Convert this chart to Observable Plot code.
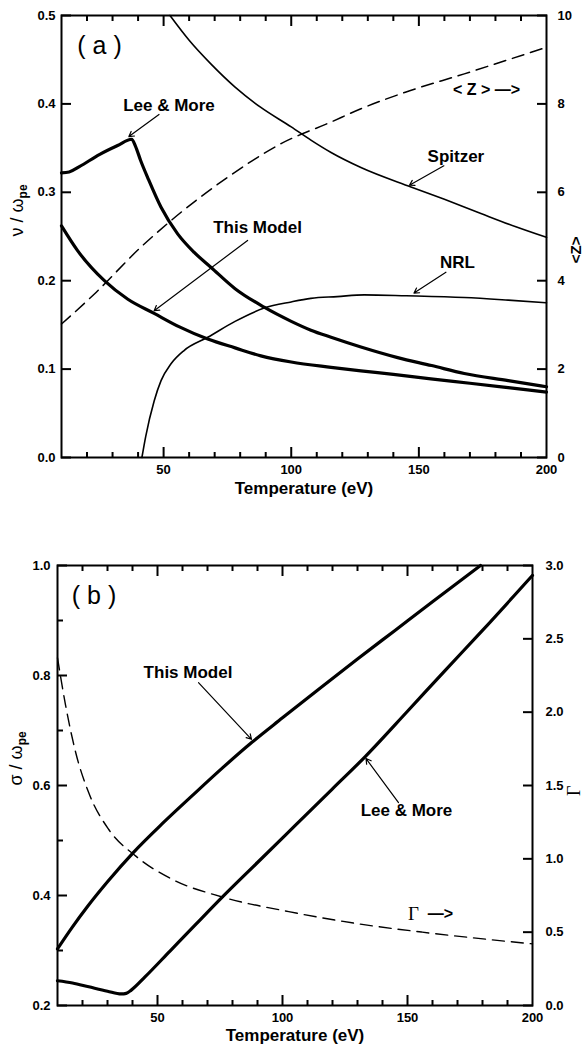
<!DOCTYPE html>
<html><head><meta charset="utf-8">
<script src="https://cdn.jsdelivr.net/npm/d3@7"></script>
<script src="https://cdn.jsdelivr.net/npm/@observablehq/plot@0.6"></script>
<style>
body{margin:0;background:#fff}
#chart svg{display:block}
</style>
</head><body><div id="chart"></div>
<script>
// ---------- Panel (a) data: collision frequency nu/omega_pe vs temperature ----------
const tempLeeA = [10, 13, 17, 25, 32, 37.5, 39, 41, 44, 49, 55.5, 62, 68.6, 78, 89.4, 100, 107.7, 115.6, 127.3, 141.7, 155, 167.8, 185, 200];
const nuLeeA   = [0.322, 0.323, 0.329, 0.343, 0.353, 0.360, 0.352, 0.336, 0.315, 0.283, 0.253, 0.232, 0.215, 0.191, 0.170, 0.154, 0.144, 0.136, 0.125, 0.113, 0.104, 0.095, 0.087, 0.080];
const tempThisA = [10, 16.3, 26.8, 36, 46.3, 56, 67.3, 78, 88.1, 100, 115.6, 127.3, 140, 154.7, 170, 185, 200];
const nuThisA   = [0.262, 0.234, 0.200, 0.179, 0.163, 0.148, 0.134, 0.124, 0.115, 0.108, 0.102, 0.098, 0.094, 0.089, 0.084, 0.079, 0.074];
const tempSpitzerA = [52.5, 60, 68.6, 78, 88.1, 100, 107.7, 115.6, 127.3, 146.9, 160, 174.3, 188, 200];
const nuSpitzerA   = [0.5, 0.472, 0.445, 0.419, 0.396, 0.374, 0.359, 0.345, 0.328, 0.306, 0.292, 0.276, 0.261, 0.249];
const tempNrlA = [41.5, 43, 46.3, 49, 52.9, 58, 67.3, 78, 89.4, 100, 107.7, 118, 128.6, 145, 167.8, 185, 200];
const nuNrlA   = [0, 0.024, 0.064, 0.087, 0.106, 0.121, 0.136, 0.154, 0.169, 0.176, 0.180, 0.182, 0.184, 0.183, 0.181, 0.178, 0.175];
const tempZA = [10, 22.9, 41.1, 52.9, 75.1, 96, 115.6, 127.3, 145, 167.8, 185, 200];
const zA     = [3.02, 3.70, 4.76, 5.36, 6.34, 7.10, 7.59, 7.89, 8.27, 8.68, 9.0, 9.28];

// ---------- Panel (b) data: sigma/omega_pe and Gamma vs temperature ----------
const tempThisB = [10, 16, 22, 30, 40.5, 52, 64, 76, 87.9, 100, 115, 130, 145, 160, 179.2];
const sigThisB  = [0.303, 0.343, 0.380, 0.425, 0.479, 0.531, 0.582, 0.632, 0.679, 0.723, 0.777, 0.830, 0.882, 0.934, 1.0];
const tempLeeB = [10, 16, 22.5, 30, 35.5, 37.5, 39.5, 45, 55, 65, 75.9, 90, 105, 120, 133.2, 150, 165, 180, 200];
const sigLeeB  = [0.245, 0.241, 0.234, 0.226, 0.221, 0.222, 0.228, 0.252, 0.299, 0.346, 0.397, 0.460, 0.527, 0.594, 0.653, 0.735, 0.809, 0.882, 0.982];
const tempGammaB = [10, 13.2, 17.2, 22.5, 30.5, 41.2, 55.9, 75.9, 102.5, 129.2, 155.9, 182.5, 200];
const gammaB     = [2.37, 2.05, 1.73, 1.45, 1.20, 1.02, 0.86, 0.74, 0.64, 0.56, 0.50, 0.45, 0.42];

// ---------- Tick values ----------
const tempLabelTicks = [50, 100, 150, 200];
const tempMajorTicks = [50, 100, 150];
const tempMinorTicks = [20, 30, 40, 60, 70, 80, 90, 110, 120, 130, 140, 160, 170, 180, 190];
const nuTicksA = [0, 0.1, 0.2, 0.3, 0.4, 0.5];
const zTicksA = [0, 2, 4, 6, 8, 10];
const sigmaTicksB = [0.2, 0.4, 0.6, 0.8, 1.0];
const sigmaMinorB = [0.3, 0.5, 0.7, 0.9];
const gammaTicksB = [0, 0.5, 1, 1.5, 2, 2.5, 3];

// ---------- Annotations ----------
const labelsA = [
  {text: "Lee & More", t: 52.1, v: 0.398},
  {text: "This Model", t: 86.8, v: 0.2596},
  {text: "Spitzer", t: 164.5, v: 0.341},
  {text: "NRL", t: 165.1, v: 0.221}
];
const arrowsA = [
  {t1: 48.2, v1: 0.388, t2: 36.4, v2: 0.363},
  {t1: 82.9, v1: 0.2455, t2: 46.3, v2: 0.166},
  {t1: 159.8, v1: 0.330, t2: 146.3, v2: 0.308},
  {t1: 160.6, v1: 0.2096, t2: 148.1, v2: 0.186}
];
const labelsB = [
  {text: "This Model", t: 62.2, v: 0.806},
  {text: "Lee & More", t: 149.6, v: 0.555}
];
const arrowsB = [
  {t1: 66.4, v1: 0.787, t2: 87.6, v2: 0.684},
  {t1: 146.4, v1: 0.569, t2: 133.4, v2: 0.649}
];

const FONT = "'Liberation Sans', Arial, Helvetica, sans-serif";
const SERIF = "'Liberation Serif', 'Times New Roman', serif";
const zToNu = 0.05;                          // <Z> axis 0..10 mapped onto 0..0.5
const gToSig = g => 0.2 + g * 0.8 / 3;       // Gamma axis 0..3 mapped onto 0.2..1.0
const sigToG = s => (s - 0.2) * 3 / 0.8;
const zip = (ts, vs) => ts.map((t, i) => ({t, v: vs[i]}));

// inward ticks: an outward axis tick shifted inward by its own length
function tick(f, anchor, vals, len) {
  const inset = {bottom: {insetBottom: len}, top: {insetTop: len}, left: {insetLeft: len}, right: {insetRight: len}}[anchor];
  return f(vals, {anchor, tickSize: len, ...inset, tickFormat: () => "", label: null, strokeWidth: 2, stroke: "black"});
}
function frameMarks(o) {
  const m = [
    Plot.frame({stroke: "black", strokeWidth: 2}),
    Plot.axisX(tempLabelTicks, {anchor: "bottom", tickSize: 0, tickPadding: 7, label: null, fontSize: 13, fontWeight: "bold"}),
    Plot.axisY(o.leftLabels, {anchor: "left", tickSize: 0, tickPadding: o.leftPad, tickFormat: o.leftFmt, label: null, fontSize: 13, fontWeight: "bold"}),
    Plot.axisY(o.rightLabels, {anchor: "right", tickSize: 0, tickPadding: o.rightPad, tickFormat: o.rightFmt, label: null, fontSize: 13, fontWeight: "bold"}),
    tick(Plot.axisX, "bottom", tempMajorTicks, 10),
    tick(Plot.axisX, "bottom", tempMinorTicks, 5),
    tick(Plot.axisX, "top", tempMajorTicks, 10),
    tick(Plot.axisX, "top", tempMinorTicks, 5),
    tick(Plot.axisY, "left", o.leftLabels, 10),
    tick(Plot.axisY, "right", o.rightLabels, 10)
  ];
  if (o.leftMinor) m.push(tick(Plot.axisY, "left", o.leftMinor, 6));
  return m;
}

// ---------- Panel (a) ----------
const plotA = Plot.plot({
  width: 584, height: 500, marginTop: 15, marginBottom: 43, marginLeft: 61, marginRight: 38,
  x: {domain: [10, 200]},
  y: {domain: [0, 0.5]},
  style: {fontFamily: FONT, fontWeight: "bold", color: "black", background: "white"},
  marks: [
    Plot.line(zip(tempZA, zA), {x: "t", y: d => d.v * zToNu, stroke: "black", strokeWidth: 1.5, strokeDasharray: "12,7", curve: "monotone-x"}),
    Plot.line(zip(tempSpitzerA, nuSpitzerA), {x: "t", y: "v", stroke: "black", strokeWidth: 1.6, curve: "monotone-x"}),
    Plot.line(zip(tempNrlA, nuNrlA), {x: "t", y: "v", stroke: "black", strokeWidth: 1.6, curve: "monotone-x"}),
    Plot.line(zip(tempLeeA, nuLeeA), {x: "t", y: "v", stroke: "black", strokeWidth: 3.2, curve: "monotone-x"}),
    Plot.line(zip(tempThisA, nuThisA), {x: "t", y: "v", stroke: "black", strokeWidth: 3.2, curve: "monotone-x"}),
    Plot.arrow(arrowsA, {x1: "t1", y1: "v1", x2: "t2", y2: "v2", stroke: "black", strokeWidth: 1.2, headLength: 7}),
    Plot.text(labelsA, {x: "t", y: "v", text: "text", fontSize: 17, fontWeight: "bold", fill: "black"}),
    Plot.text(["< Z > —>"], {x: 176.5, y: 0.416, text: d => d, fontSize: 16, fontWeight: "bold", fill: "black"}),
    Plot.text(["( a )"], {x: 24.9, y: 0.465, text: d => d, fontSize: 25, fontWeight: "normal", fill: "black"}),
    Plot.text(["Temperature (eV)"], {frameAnchor: "bottom", dy: 36, text: d => d, fontSize: 17, fontWeight: "bold", fill: "black"}),
    Plot.text(["ν / ωpe"], {frameAnchor: "left", dx: -44, rotate: -90, text: d => d, fontSize: 18, fontWeight: "normal", fill: "black"}),
    Plot.text(["<Z>"], {frameAnchor: "right", dx: 30, rotate: -90, text: d => d, fontSize: 15, fontWeight: "bold", fill: "black"}),
    ...frameMarks({
      leftLabels: nuTicksA, leftFmt: d => d.toFixed(1),
      rightLabels: zTicksA.map(z => z * zToNu), rightFmt: d => String(Math.round(d / zToNu)),
      leftPad: 6, rightPad: 11
    })
  ]
});

// ---------- Panel (b) ----------
const plotB = Plot.plot({
  width: 584, height: 545, marginTop: 65, marginBottom: 40, marginLeft: 57, marginRight: 52,
  x: {domain: [10, 200]},
  y: {domain: [0.2, 1.0]},
  style: {fontFamily: FONT, fontWeight: "bold", color: "black", background: "white"},
  marks: [
    Plot.line(zip(tempGammaB, gammaB), {x: "t", y: d => gToSig(d.v), stroke: "black", strokeWidth: 1.4, strokeDasharray: "12,7", curve: "monotone-x"}),
    Plot.line(zip(tempThisB, sigThisB), {x: "t", y: "v", stroke: "black", strokeWidth: 3.2, curve: "monotone-x"}),
    Plot.line(zip(tempLeeB, sigLeeB), {x: "t", y: "v", stroke: "black", strokeWidth: 3.2, curve: "monotone-x"}),
    Plot.arrow(arrowsB, {x1: "t1", y1: "v1", x2: "t2", y2: "v2", stroke: "black", strokeWidth: 1.2, headLength: 7}),
    Plot.text(labelsB, {x: "t", y: "v", text: "text", fontSize: 17, fontWeight: "bold", fill: "black"}),
    Plot.text(["Γ"], {x: 152.4, y: 0.367, text: d => d, fontSize: 19, fontWeight: "normal", fontFamily: SERIF, fill: "black"}),
    Plot.text(["—>"], {x: 163.2, y: 0.367, text: d => d, fontSize: 16, fontWeight: "bold", fill: "black"}),
    Plot.text(["( b )"], {x: 24.6, y: 0.944, text: d => d, fontSize: 25, fontWeight: "normal", fill: "black"}),
    Plot.text(["Temperature (eV)"], {frameAnchor: "bottom", dy: 35, text: d => d, fontSize: 17, fontWeight: "bold", fill: "black"}),
    Plot.text(["σ / ωpe"], {frameAnchor: "left", dx: -41, rotate: -90, text: d => d, fontSize: 18, fontWeight: "normal", fill: "black"}),
    Plot.text(["Γ"], {frameAnchor: "right", dx: 42, rotate: -90, text: d => d, fontSize: 18, fontWeight: "normal", fontFamily: SERIF, fill: "black"}),
    ...frameMarks({
      leftLabels: sigmaTicksB, leftFmt: d => d.toFixed(1), leftMinor: sigmaMinorB,
      rightLabels: gammaTicksB.map(gToSig), rightFmt: d => sigToG(d).toFixed(1),
      leftPad: 7, rightPad: 13
    })
  ]
});

// subscript "pe" on the omega in the left axis titles
for (const svg of [plotA, plotB]) {
  d3.select(svg).selectAll("text").each(function() {
    const s = this.textContent;
    if (s === "ν / ωpe" || s === "σ / ωpe") {
      const sel = d3.select(this);
      sel.text(s.slice(0, -2));
      sel.append("tspan").attr("dy", "0.35em").attr("font-size", 12).attr("font-weight", "bold").text("pe");
    }
  });
}

const root = document.getElementById("chart");
root.appendChild(plotA);
root.appendChild(plotB);
</script>
</body></html>
